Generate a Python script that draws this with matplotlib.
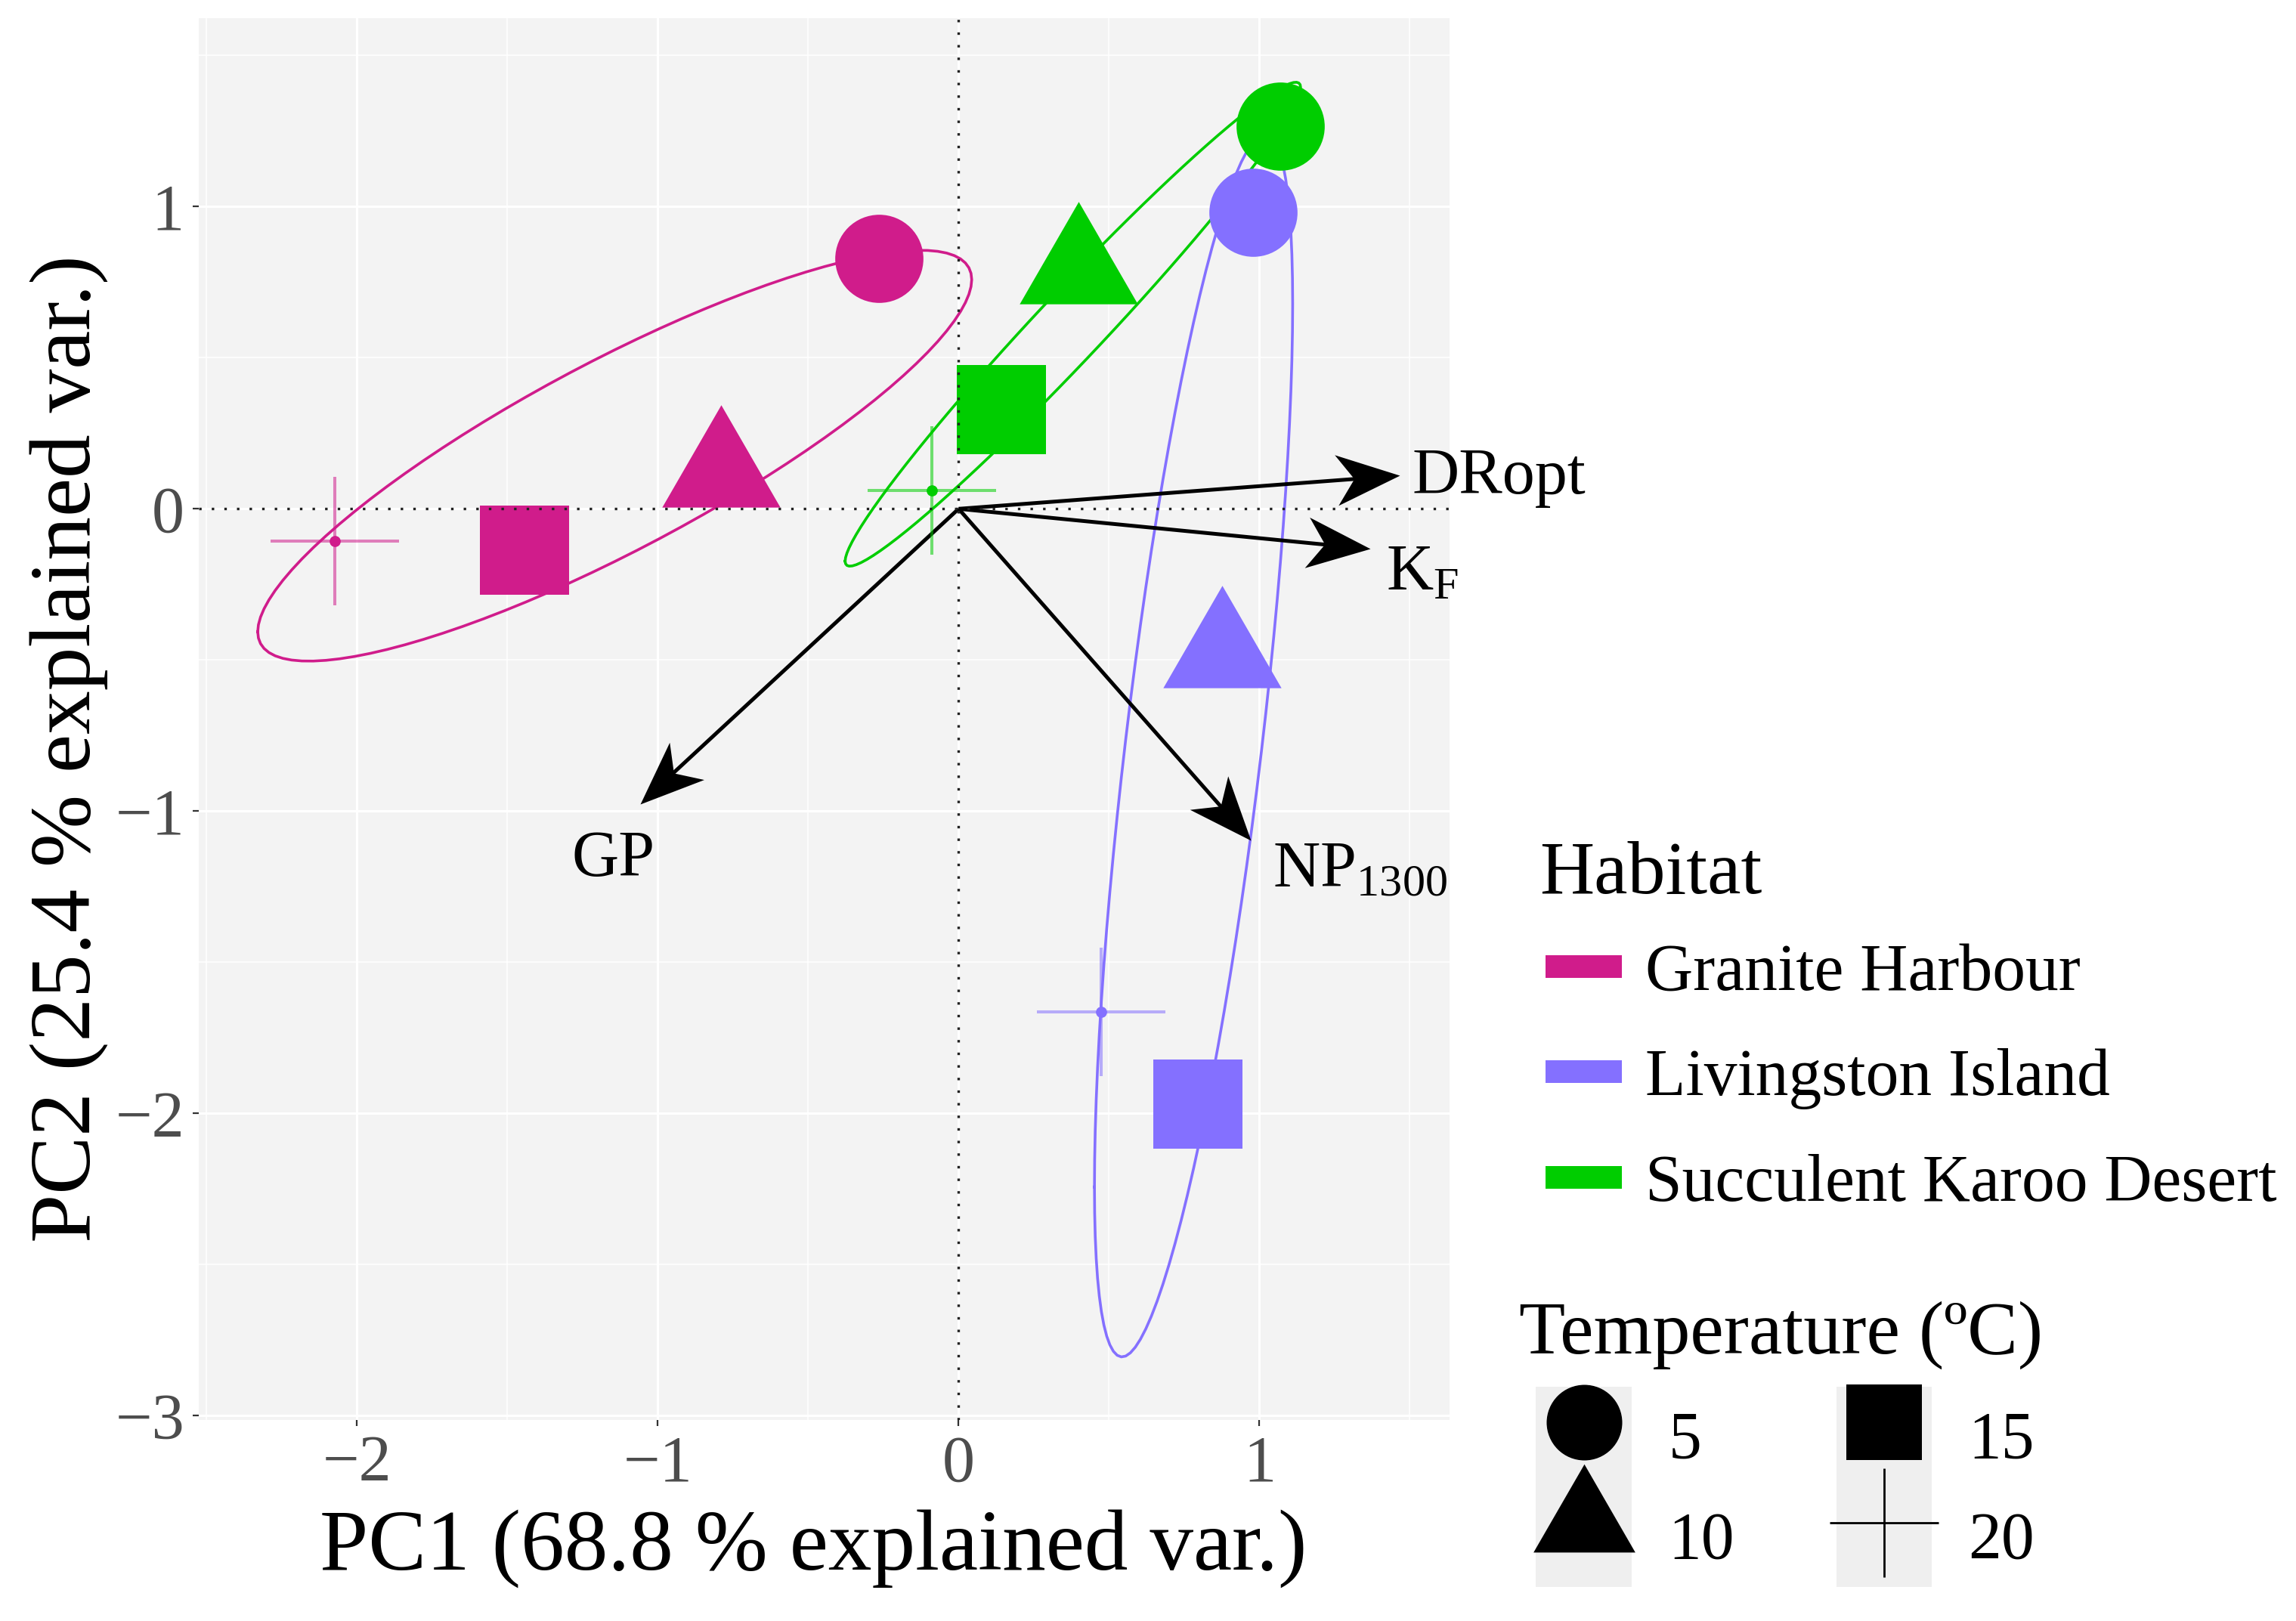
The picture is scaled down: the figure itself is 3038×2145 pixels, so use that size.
import numpy as np
import matplotlib
matplotlib.use("Agg")
import matplotlib.pyplot as plt
from matplotlib.lines import Line2D
from matplotlib.patches import Patch
from matplotlib.markers import MarkerStyle
from matplotlib.legend_handler import HandlerTuple
from matplotlib.ticker import MultipleLocator

plt.rcParams['font.family'] = ['Liberation Serif', 'DejaVu Serif']
plt.rcParams['mathtext.fontset'] = 'custom'
plt.rcParams['mathtext.rm'] = 'Liberation Serif'
plt.rcParams['mathtext.it'] = 'Liberation Serif:italic'

# ---- data (PCA scores per habitat, order = temperature 5, 10, 15, 20) ----
habitats = ["Granite Harbour", "Livingston Island", "Succulent Karoo Desert"]
hab_colors = ["#D01C8B", "#8470FF", "#00CD00"]
temps = ["5", "10", "15", "20"]

pc1_granite = [-0.265, -0.790, -1.443, -2.075]
pc2_granite = [0.829, 0.118, -0.138, -0.106]
pc1_livingston = [0.980, 0.875, 0.795, 0.474]
pc2_livingston = [0.981, -0.479, -1.969, -1.664]
pc1_karoo = [1.070, 0.398, 0.141, -0.090]
pc2_karoo = [1.265, 0.790, 0.328, 0.060]

# loadings (arrows)
var_names = ["DRopt", r"$\mathrm{K_F}$", r"$\mathrm{NP_{1300}}$", "GP"]
var_pc1 = [1.467, 1.369, 0.972, -1.059]
var_pc2 = [0.110, -0.133, -1.098, -0.976]

pc1_all = [pc1_granite, pc1_livingston, pc1_karoo]
pc2_all = [pc2_granite, pc2_livingston, pc2_karoo]

ellipse_prob = 0.68

# ---- figure ----
W, H = 3038, 2145
DPI = 200
fig = plt.figure(figsize=(W / DPI, H / DPI), dpi=DPI)
ax = fig.add_axes([263.4 / W, 1 - 1879.3 / H, 1655 / W, 1855.2 / H])
ax.set_xlim(-2.525, 1.633)
ax.set_ylim(-3.015, 1.623)

ax.set_facecolor("#F3F3F3")
for s in ax.spines.values():
    s.set_visible(False)
ax.set_xticks([-2, -1, 0, 1])
ax.set_yticks([-3, -2, -1, 0, 1])
ax.xaxis.set_minor_locator(MultipleLocator(0.5))
ax.yaxis.set_minor_locator(MultipleLocator(0.5))
ax.set_axisbelow(True)
ax.grid(which="major", color="white", lw=1.1)
ax.grid(which="minor", color="white", lw=0.6)
ax.tick_params(which="major", length=3, width=0.8, color="#333333",
               labelsize=31, labelcolor="#4D4D4D", pad=4)
ax.tick_params(which="minor", length=0)

# reference lines
ax.axhline(0, ls=(0, (1, 4)), lw=1.2, color="#222222", zorder=6)
ax.axvline(0, ls=(0, (1, 4)), lw=1.2, color="#222222", zorder=6)

# markers
tri = MarkerStyle([(0, 1), (-0.866, -0.5), (0.866, -0.5), (0, 1)])
markers = ["o", tri, "s", "+"]
msizes = [42, 65, 42.5, 61]

# ellipses (normal probability ellipse, as ggbiplot)
ed = np.sqrt(-2 * np.log(1 - ellipse_prob))
theta = np.linspace(-np.pi, np.pi, 101)
circ = np.column_stack([np.cos(theta), np.sin(theta)])
for xs, ys, c in zip(pc1_all, pc2_all, hab_colors):
    xy = np.column_stack([xs, ys])
    mu = xy.mean(axis=0)
    L = np.linalg.cholesky(np.cov(xy.T))
    ell = circ @ L.T * ed + mu
    ax.plot(ell[:, 0], ell[:, 1], color=c, lw=1.3, zorder=2)

# arrows
head_len_px = 84
head = [(0, 0), (-1, 0.4), (-0.72, 0), (-1, -0.4), (0, 0)]
origin = ax.transData.transform((0, 0))
for vx, vy in zip(var_pc1, var_pc2):
    tip = ax.transData.transform((vx, vy))
    d = tip - origin
    ang = np.arctan2(d[1], d[0])
    back = tip - d / np.hypot(*d) * head_len_px * 0.7
    end = ax.transData.inverted().transform(back)
    ax.plot([0, end[0]], [0, end[1]], color="black", lw=1.8,
            solid_capstyle="butt", zorder=3)
    ax.plot([vx], [vy], marker=MarkerStyle(head).rotated(rad=ang),
            ms=head_len_px * 2 * 72 / DPI, color="black", mew=0, zorder=3)

label_offsets = [(6, -8.6, "left"), (7.6, -19.4, "left"),
                 (10.4, -21.6, "left"), (-12.6, -34.2, "center")]
for name, vx, vy, (ox, oy, ha) in zip(var_names, var_pc1, var_pc2, label_offsets):
    ax.annotate(name, (vx, vy), xytext=(ox, oy), textcoords="offset points",
                ha=ha, va="baseline", fontsize=31, color="black", zorder=7)

# points
for xs, ys, c in zip(pc1_all, pc2_all, hab_colors):
    for i in range(4):
        if markers[i] == "+":
            ax.plot(xs[i], ys[i], marker="+", ms=msizes[i], mew=1.45,
                    color=c, alpha=0.55, ls="none", zorder=4)
            ax.plot(xs[i], ys[i], marker="o", ms=5.3, mew=0,
                    color=c, ls="none", zorder=4)
        else:
            ax.plot(xs[i], ys[i], marker=markers[i], ms=msizes[i], mew=0,
                    color=c, ls="none", zorder=4)

# axis titles
ax.set_xlabel("PC1 (68.8 % explained var.)", fontsize=41.5, va="baseline")
ax.xaxis.set_label_coords(0.4912, (1879.3 - 2077) / 1855.2)
ax.set_ylabel("PC2 (25.4 % explained var.)", fontsize=41.5, va="center")
ax.yaxis.set_label_coords(-0.104, 0.479)

# legends
hab_handles = [Line2D([], [], color=c, lw=10.8, solid_capstyle="butt")
               for c in hab_colors]
leg1 = fig.legend(hab_handles, habitats, title="Habitat", loc="upper left",
                  bbox_to_anchor=(2037 / W, 1 - 1113 / H), frameon=False,
                  fontsize=31.5, title_fontsize=36, alignment="left",
                  handlelength=1.15, handletextpad=0.35, labelspacing=0.67,
                  borderpad=0, borderaxespad=0)
leg1._legend_handle_box.pad = 3
leg1._legend_box.sep = 13

leg_ms = [36, 56, 36, 52]
temp_handles = []
for m, s in zip(markers, leg_ms):
    bg = Patch(facecolor="#EFEFEF", edgecolor="none")
    if m == "+":
        mk = Line2D([], [], marker=m, ms=s, mew=1.0, color="black", ls="none")
    else:
        mk = Line2D([], [], marker=m, ms=s, mew=0, color="black", ls="none")
    temp_handles.append((bg, mk))
leg2 = fig.legend(temp_handles, temps, title="Temperature (ºC)", ncol=2,
                  loc="upper left", bbox_to_anchor=(2010 / W, 1 - 1722 / H),
                  frameon=False, fontsize=31.5, title_fontsize=36,
                  alignment="left", handlelength=1.45, handleheight=1.96,
                  handletextpad=0.55, columnspacing=1.54, labelspacing=0,
                  borderpad=0, borderaxespad=0,
                  handler_map={tuple: HandlerTuple(ndivide=1, pad=0)})
leg2._legend_handle_box.pad = 8
leg2._legend_box.sep = 0

fig.savefig("out.png", dpi=DPI, facecolor="white")
